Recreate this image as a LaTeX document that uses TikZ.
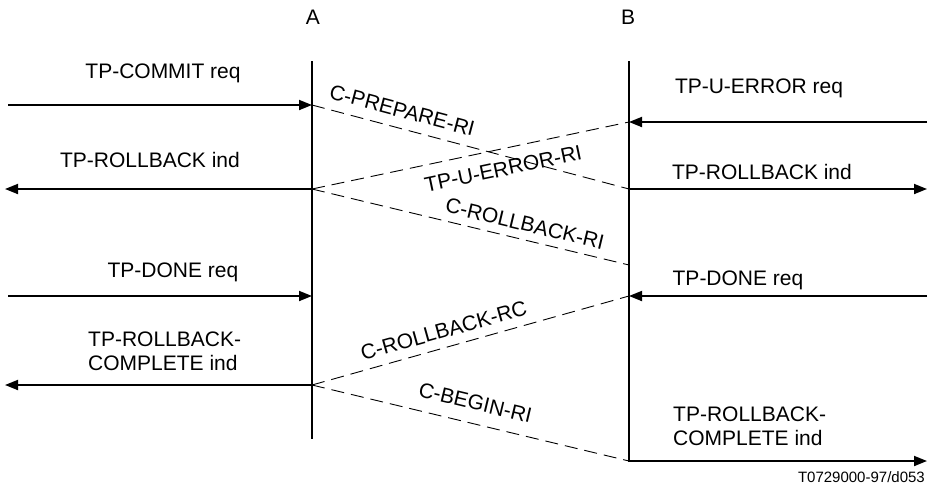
\documentclass[tikz,border=0pt]{standalone}
\usepackage{fontspec}
\setmainfont{Liberation Sans}
\usetikzlibrary{arrows.meta}
\begin{document}
\begin{tikzpicture}[x=1pt,y=-1pt,
  lbl/.style={font=\fontsize{21}{24}\selectfont, inner sep=0pt},
  msg/.style={line width=1.8pt,-{Triangle[length=13pt,width=10pt]}},
  life/.style={line width=1.8pt, line cap=rect},
  pdu/.style={line width=0.9pt, dash pattern=on 13pt off 7pt}]
\useasboundingbox (0,0) rectangle (929,491);
% lifelines
\coordinate (Atop) at (312,62);
\coordinate (Abot) at (312,438);
\coordinate (Btop) at (629,62);
\coordinate (Bbot) at (629,461);
\draw[life] (Atop) -- (Abot);
\draw[life] (Btop) -- (Bbot);
\node[lbl] (labA) at (313,17) {A};
\node[lbl] (labB) at (628,17) {B};
% points on lifelines
\coordinate (A1) at (312,105);
\coordinate (A2) at (312,189);
\coordinate (A3) at (312,296);
\coordinate (A4) at (312,385);
\coordinate (B1) at (629,122);
\coordinate (B2) at (629,189);
\coordinate (B3) at (629,265);
\coordinate (B4) at (629,296);
\coordinate (B5) at (629,461);
% free ends
\coordinate (L1) at (8,105);
\coordinate (L2) at (5,189);
\coordinate (L3) at (8,296);
\coordinate (L4) at (5,385);
\coordinate (R1) at (927,122);
\coordinate (R2) at (927,189);
\coordinate (R3) at (927,296);
\coordinate (R5) at (927,461);
% service primitives
\draw[msg] (L1) -- (A1);
\node[lbl] (tcommit) at (163,73) {TP-COMMIT req};
\draw[msg] (R1) -- (B1);
\node[lbl] (tuerr) at (759,88) {TP-U-ERROR req};
\draw[msg] (A2) -- (L2);
\node[lbl] (trbl) at (150,160) {TP-ROLLBACK ind};
\draw[msg] (B2) -- (R2);
\node[lbl] (trbr) at (762,172) {TP-ROLLBACK ind};
\draw[msg] (L3) -- (A3);
\node[lbl] (tdonel) at (173,272) {TP-DONE req};
\draw[msg] (R3) -- (B4);
\node[lbl] (tdoner) at (738,280) {TP-DONE req};
\draw[msg] (A4) -- (L4);
\node[lbl, align=left, anchor=west] (trbcl) at (88,351) {TP-ROLLBACK-\\COMPLETE ind};
\draw[msg] (B5) -- (R5);
\node[lbl, align=left, anchor=west] (trbcr) at (673,426) {TP-ROLLBACK-\\COMPLETE ind};
% PDUs
\draw[pdu] (A1) -- node[lbl,sloped,pos=.27,above=10pt] (cprep) {C-PREPARE-RI} (B2);
\draw[pdu] (A2) -- node[lbl,sloped,pos=.59,below=12pt] (tperr) {TP-U-ERROR-RI} (B1);
\draw[pdu] (A2) -- node[lbl,sloped,pos=.66,above=8pt] (crbri) {C-ROLLBACK-RI} (B3);
\draw[pdu] (A4) -- node[lbl,sloped,pos=.43,above=9pt] (crbrc) {C-ROLLBACK-RC} (B4);
\draw[pdu] (A4) -- node[lbl,sloped,pos=.5,above=13pt] (cbeg) {C-BEGIN-RI} (B5);
% footer
\node[font=\fontsize{15}{18}\selectfont, inner sep=0pt, anchor=east] (foot) at (925,477) {T0729000-97/d053};
\end{tikzpicture}
\end{document}
